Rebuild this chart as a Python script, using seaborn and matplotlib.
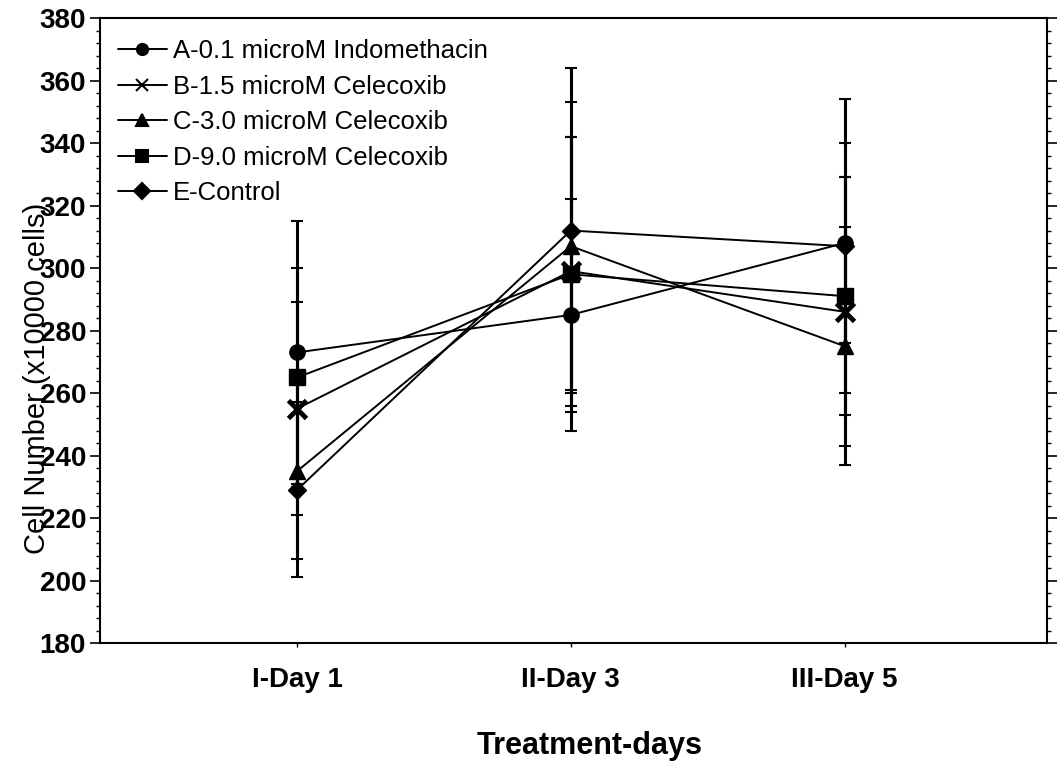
import numpy as np
import pandas as pd
import matplotlib
matplotlib.use("Agg")
import matplotlib.pyplot as plt
from matplotlib.ticker import MultipleLocator
import seaborn as sns

days = ["I-Day 1", "II-Day 3", "III-Day 5"]
series = ["A-0.1 microM Indomethacin", "B-1.5 microM Celecoxib",
          "C-3.0 microM Celecoxib", "D-9.0 microM Celecoxib", "E-Control"]

# mean cell number (x10000 cells)
a_vals = [273, 285, 308]
b_vals = [255, 299, 286]
c_vals = [235, 307, 275]
d_vals = [265, 298, 291]
e_vals = [229, 312, 307]

# error bar half-widths
a_err = [42, 37, 32]
b_err = [34, 43, 43]
c_err = [28, 46, 38]
d_err = [35, 44, 38]
e_err = [28, 52, 47]

markers = ["o", "x", "^", "s", "D"]
sizes = [11, 13, 11, 11, 9]

sns.set_style("ticks")
plt.rcParams['font.family'] = ['Liberation Sans', 'DejaVu Sans']
plt.rcParams.update({"text.color": "black", "axes.labelcolor": "black",
                     "xtick.color": "black", "ytick.color": "black"})

rows = []
for name, vals, errs in zip(series, [a_vals, b_vals, c_vals, d_vals, e_vals],
                            [a_err, b_err, c_err, d_err, e_err]):
    for i, (v, e) in enumerate(zip(vals, errs)):
        rows.append({"series": name, "day": i, "value": v, "err": e})
df = pd.DataFrame(rows)

fig = plt.figure(figsize=(10.57, 7.61), dpi=100)
ax = fig.add_axes([0.0946, 0.155, 0.896, 0.8213])

# error bars first (drawn underneath)
for name in series:
    sub = df[df["series"] == name]
    ax.errorbar(sub["day"], sub["value"], yerr=sub["err"], fmt="none",
                ecolor="black", elinewidth=2.2, capsize=4, capthick=1.5, zorder=2)

for name, mk, ms in zip(series, markers, sizes):
    sub = df[df["series"] == name]
    sns.lineplot(data=sub, x="day", y="value", color="black", marker=mk,
                 markersize=ms, markeredgewidth=3.5 if mk == "x" else 1,
                 markeredgecolor="black", markerfacecolor="black",
                 linewidth=1.4, label=name, ax=ax, zorder=3)

ax.set_xlim(-0.72, 2.74)
ax.set_ylim(180, 380)
ax.set_xticks(range(len(days)))
ax.set_xticklabels(days, fontsize=20, fontweight="bold")
ax.yaxis.set_major_locator(MultipleLocator(20))
ax.yaxis.set_minor_locator(MultipleLocator(4))
for lbl in ax.get_yticklabels():
    lbl.set_fontsize(20)
    lbl.set_fontweight("bold")
ax.tick_params(axis="y", which="major", length=7, width=1.2, direction="out",
               right=True, pad=3)
ax.tick_params(axis="y", which="minor", length=3, width=1, direction="out",
               right=True)
ax.tick_params(axis="x", length=3, width=1, pad=14)

for s in ax.spines.values():
    s.set_visible(True)
    s.set_linewidth(1.5)
    s.set_color("black")

ax.set_xlabel("Treatment-days", fontsize=22, fontweight="bold")
ax.xaxis.set_label_coords(0.517, -0.14)
# the label sits over the tick numbers, as in the original figure
ax.set_ylabel("Cell Number (x10000 cells)", fontsize=21)
ax.yaxis.set_label_coords(-0.052, 0.424)

ax.legend(frameon=False, loc="upper left", bbox_to_anchor=(0.0, 0.995),
          fontsize=18.5, handlelength=1.9, handletextpad=0.25,
          labelspacing=0.45, borderaxespad=0.3)
leg = ax.get_legend()
for h in leg.legend_handles:
    h.set_markersize(8)
    h.set_markeredgewidth(1.5)

fig.savefig("out.png", dpi=100)
